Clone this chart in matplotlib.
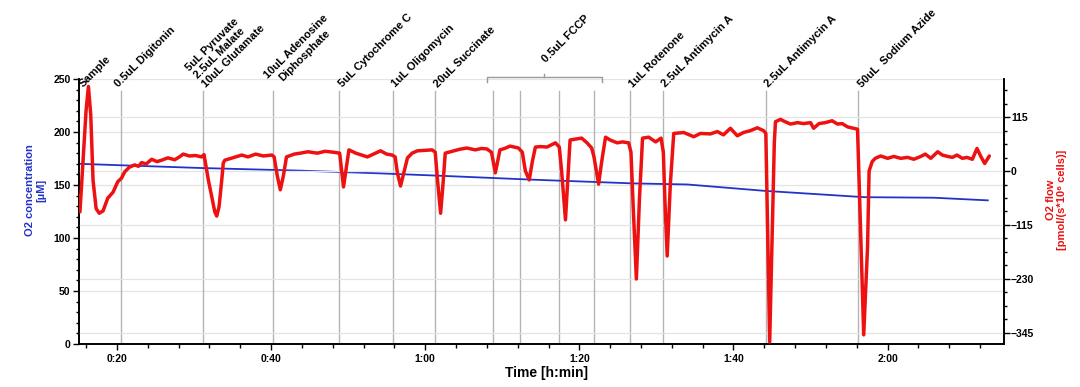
import matplotlib
matplotlib.use("Agg")
import matplotlib.pyplot as plt
from matplotlib.ticker import MultipleLocator, FixedLocator, FixedFormatter

plt.rcParams['font.family'] = ['Liberation Sans', 'DejaVu Sans']
plt.rcParams['font.weight'] = 'bold'

# ---- data (time in minutes) ----
conc_time = [15, 31, 44, 54, 61, 74, 87, 94, 104, 117, 126, 133]
conc_value = [170, 166, 163.5, 161, 159, 155, 151.5, 150.5, 144.5, 138.5, 138, 135.5]

flow_time = [14.7, 15.2, 15.6, 16.0, 16.3, 16.6, 16.9, 17.3, 17.7, 18.2, 18.8, 19.5,
             20.1, 20.6, 21.0, 21.6, 22.3, 22.8, 23.2, 23.8, 24.5, 25.2, 25.8, 26.6,
             27.5, 28.1, 28.6, 29.4, 30.2, 31.0, 31.3, 31.86, 32.3, 32.7, 32.95, 33.25,
             33.6, 33.8, 34.0, 35.0, 36.2, 37.0, 38.0, 39.0, 40.1, 40.4, 40.8, 41.2,
             41.6, 42.0, 43.0, 43.8, 44.8, 46.0, 47.0, 48.1, 48.9, 49.1, 49.4, 49.7,
             50.1, 51.0, 52.5, 53.3, 54.2, 55.0, 55.7, 56.1, 56.4, 56.8, 57.2, 57.7,
             58.3, 59.0, 60.0, 60.9, 61.3, 61.6, 62.0, 62.3, 62.6, 63.5, 64.4, 65.4,
             66.5, 67.3, 68.0, 68.6, 69.1, 69.4, 69.7, 70.3, 71.0, 72.1, 72.6, 73.0,
             73.5, 73.9, 74.3, 75.0, 75.8, 76.9, 77.4, 77.7, 78.2, 78.5, 78.8, 79.5,
             80.3, 81.0, 81.6, 81.9, 82.5, 82.9, 83.4, 84.0, 84.9, 85.6, 86.4, 86.7,
             87.0, 87.4, 87.8, 88.2, 89.0, 89.9, 90.6, 90.9, 91.1, 91.4, 91.8, 92.25,
             93.55, 94.85, 95.7, 97.0, 97.9, 98.7, 99.6, 100.5, 101.3, 102.2, 103.1, 103.9,
             104.2, 104.4, 104.7, 105.0, 105.3, 105.45, 106.1, 106.7, 107.4, 108.3, 109.1, 110.0,
             110.4, 111.1, 111.9, 112.8, 113.5, 114.1, 114.8, 115.6, 116.1, 116.3, 116.9, 117.4,
             117.6, 118.0, 118.4, 119.1, 120.0, 120.8, 121.7, 122.6, 123.4, 124.3, 124.9, 125.6,
             126.5, 127.1, 127.8, 128.4, 129.0, 129.7, 130.3, 131.0, 131.6, 132.1, 132.6, 133.2]
flow_value = [-30, -87, 20, 130, 180, 120, -20, -80, -90, -85, -58, -45,
              -23, -15, -2, 8, 13, 10, 18, 15, 25, 20, 23, 28,
              24, 30, 36, 32, 33, 30, 35, -19, -55, -87, -96, -76,
              -19, 17, 23, 28, 34, 30, 36, 32, 34, 30, -10, -40,
              -10, 30, 36, 38, 41, 38, 42, 40, 38, 10, -34, 0,
              45, 38, 30, 36, 43, 36, 34, 30, -5, -32, -5, 28,
              38, 43, 44, 45, 40, -20, -90, -30, 38, 42, 46, 49,
              45, 48, 47, 40, -4, 20, 45, 48, 53, 49, 40, 0,
              -19, 20, 51, 52, 51, 60, 51, 0, -104, -20, 66, 68,
              70, 60, 49, 30, -28, 20, 72, 66, 60, 62, 60, 40,
              -80, -230, -60, 70, 72, 62, 70, 40, -60, -181, -30, 80,
              82, 73, 80, 79, 84, 77, 91, 75, 82, 86, 92, 86,
              80, -100, -364, -150, 60, 105, 110, 105, 100, 103, 101, 103,
              91, 101, 103, 107, 100, 101, 94, 91, 89, -19, -349, -161,
              0, 20, 27, 32, 27, 31, 27, 29, 25, 31, 36, 27,
              41, 34, 31, 29, 34, 27, 29, 25, 48, 31, 16, 32]

event_time = [15.2, 20.5, 31.2, 40.3, 48.8, 55.8, 61.3, 86.6, 90.8, 104.2, 116.2]
event_label = ["Sample", "0.5uL Digitonin", "5uL Pyruvate\n2.5uL Malate\n10uL Glutamate",
               "10uL Adenosine\nDiphosphate", "5uL Cytochrome C", "1uL Oligomycin",
               "20uL Succinate", "1uL Rotenone", "2.5uL Antimycin A", "2.5uL Antimycin A",
               "50uL  Sodium Azide"]
fccp_time = [68.8, 72.3, 77.3, 81.9]
fccp_label = "0.5uL FCCP"

xtick_pos = [20, 40, 60, 80, 100, 120]
xtick_label = ["0:20", "0:40", "1:00", "1:20", "1:40", "2:00"]
left_ticks = [0, 50, 100, 150, 200, 250]
right_ticks = [-345, -230, -115, 0, 115]

BLUE = "#2233cc"
RED = "#ee1111"
GRID = "#e4e4e4"
EVT = "#b4b4b4"

fig = plt.figure(figsize=(10.8, 3.87), dpi=100)
ax = fig.add_axes([0.0731, 0.1111, 0.8565, 0.6848])
ax2 = ax.twinx()

ax.set_xlim(15.07, 135.1)
ax.set_ylim(0, 250)
ax2.set_ylim(-368.5, 196)

# grids
ax.yaxis.set_major_locator(FixedLocator(left_ticks))
ax.yaxis.set_minor_locator(MultipleLocator(10))
ax2.yaxis.set_major_locator(FixedLocator(right_ticks))
ax2.yaxis.set_minor_locator(MultipleLocator(28.75))
ax.grid(axis='y', color=GRID, lw=0.9, zorder=0)
ax2.grid(axis='y', color=GRID, lw=0.9, zorder=0)
ax.set_axisbelow(True)
ax2.set_axisbelow(True)

# event lines
all_lines = [t for t in event_time[1:]] + fccp_time
for t in all_lines:
    ax.axvline(t, ymin=0, ymax=0.955, color=EVT, lw=1.0, zorder=1)

# data
ax.plot(conc_time, conc_value, color=BLUE, lw=1.3, zorder=3)
ax2.plot(flow_time, flow_value, color=RED, lw=2.5, zorder=4,
         solid_joinstyle='round', solid_capstyle='round')

# event labels
xt = ax.get_xaxis_transform()
for t, lab in zip(event_time, event_label):
    dx = -0.05 if 'Digitonin' in lab else 0.6
    ax.text(t + dx, 0.962, lab, transform=xt, rotation=45, rotation_mode='anchor',
            ha='left', va='bottom', fontsize=8, fontweight='bold',
            multialignment='center' if 'Adenosine' in lab else 'left', clip_on=False)

# FCCP bracket
b0, b1 = min(fccp_time) - 0.75, max(fccp_time) + 1.0
bc = (b0 + b1) / 2
ax.plot([b0, b0, b1, b1], [0.989, 1.0075, 1.0075, 0.989], transform=xt,
        color="#999999", lw=1.0, clip_on=False)
ax.plot([bc, bc], [1.0075, 1.02], transform=xt, color="#999999", lw=1.0, clip_on=False)
ax.text(bc + 0.35, 1.055, fccp_label, transform=xt, rotation=45, rotation_mode='anchor',
        ha='left', va='bottom', fontsize=8, fontweight='bold', clip_on=False)

# x axis
ax.xaxis.set_major_locator(FixedLocator(xtick_pos))
ax.xaxis.set_major_formatter(FixedFormatter(xtick_label))
ax.xaxis.set_minor_locator(MultipleLocator(4))
ax.tick_params(axis='x', which='major', direction='out', length=4, width=1.0,
               labelsize=7.5, pad=3)
ax.tick_params(axis='x', which='minor', direction='out', length=3, width=1.0)
ax.tick_params(axis='y', which='major', direction='out', length=4, width=1.0,
               labelsize=7.5, pad=2)
ax.tick_params(axis='y', which='minor', direction='out', length=2.5, width=1.0)
ax2.tick_params(axis='y', which='major', direction='out', length=4, width=1.0,
                labelsize=7.5, pad=1)
ax2.tick_params(axis='y', which='minor', direction='out', length=2.5, width=1.0)

for a in (ax, ax2):
    a.spines['top'].set_visible(False)
    for s in ('left', 'right', 'bottom'):
        a.spines[s].set_linewidth(1.2)

# axis titles
ax.text(0.505, -0.109, "Time [h:min]", transform=ax.transAxes, ha='center', va='center',
        fontsize=10, fontweight='bold')
ax.text(-0.0465, 0.58, "O2 concentration\n[µM]", transform=ax.transAxes, rotation=90,
        ha='center', va='center', fontsize=8, fontweight='bold', color=BLUE,
        multialignment='center')
ax.text(1.057, 0.543, "O2 flow\n[pmol/(s*10⁶ cells)]", transform=ax.transAxes, rotation=90,
        ha='center', va='center', fontsize=8, fontweight='bold', color=RED,
        multialignment='center')

fig.savefig("out.png", dpi=100)
